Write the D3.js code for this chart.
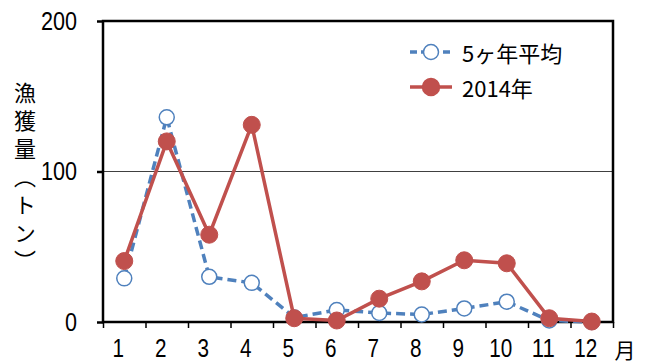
<!DOCTYPE html>
<html>
<head>
<meta charset="utf-8">
<script src="https://cdn.jsdelivr.net/npm/d3@7"></script>
<style>
  html, body { margin: 0; padding: 0; background: #fff; }
  svg { display: block; }
  .num { font-family: "Liberation Sans", "Noto Sans CJK JP", sans-serif; }
  .cjk { font-family: "Noto Sans CJK JP", sans-serif; }
</style>
</head>
<body>
<svg id="chart" width="649" height="363"></svg>
<script>
// Monthly catch (tons)
const months = [1, 2, 3, 4, 5, 6, 7, 8, 9, 10, 11, 12];
const monthLabels = ["1", "2", "3", "4", "5", "6", "7", "8", "9", "10", "11", "12"];
const avg5yr = [29, 136, 30, 26, 3, 8, 6, 5, 9, 13.5, 1, 0];
const y2014 = [40.5, 120, 58, 131, 2.5, 1, 15.5, 27, 41, 39, 2.5, 0.3];
const yTicks = [0, 100, 200];
const seriesNames = ["5ヶ年平均", "2014年"];
const yTitle = "漁獲量（トン）";

const svg = d3.select("#chart");
const plotLeft = 103, plotRight = 613, plotTop = 21, plotBottom = 322;
const blue = "#4f81bd", red = "#c0504d";
const digitW = 12;   // condensed digit width for axis numbers

const x = d3.scaleLinear().domain([0.5, 12.5]).range([plotLeft, plotRight]);
const y = d3.scaleLinear().domain([0, 200]).range([plotBottom, plotTop]);

// gridline at 100
svg.append("g")
  .selectAll("line")
  .data(yTicks.filter(d => d > 0 && d < 200))
  .join("line")
  .attr("x1", plotLeft).attr("x2", plotRight)
  .attr("y1", d => y(d)).attr("y2", d => y(d))
  .attr("stroke", "#404040").attr("stroke-width", 1.2);

// y axis ticks + labels
const yAxis = d3.axisLeft(y).tickValues(yTicks).tickSize(6).tickPadding(20).tickFormat(d3.format("d"));
const gy = svg.append("g").attr("transform", `translate(${plotLeft},0)`).call(yAxis);
gy.select(".domain").remove();
gy.selectAll(".tick line").attr("stroke", "#000").attr("stroke-width", 2.5);
gy.selectAll(".tick text")
  .attr("class", "num").attr("font-size", 25).attr("fill", "#000")
  .attr("textLength", d => String(d).length * digitW)
  .attr("lengthAdjust", "spacingAndGlyphs");

// x axis: ticks at category boundaries
const boundaries = d3.range(0.5, 13, 1);
const xAxis = d3.axisBottom(x).tickValues(boundaries).tickSize(6).tickFormat("");
const gx = svg.append("g").attr("transform", `translate(0,${plotBottom})`).call(xAxis);
gx.select(".domain").remove();
gx.selectAll(".tick line").attr("stroke", "#000").attr("stroke-width", 1.5);

// month labels
svg.append("g")
  .selectAll("text")
  .data(months)
  .join("text")
  .attr("class", "num")
  .attr("x", (d) => x(d) - 6)
  .attr("y", 357)
  .attr("text-anchor", "middle")
  .attr("font-size", 25)
  .attr("textLength", (d, i) => monthLabels[i].length * (digitW - 0.5))
  .attr("lengthAdjust", "spacingAndGlyphs")
  .text((d, i) => monthLabels[i]);

svg.append("text")
  .attr("class", "cjk")
  .attr("x", 625).attr("y", 358)
  .attr("text-anchor", "middle")
  .attr("font-size", 21)
  .text("月");

// plot frame
svg.append("rect")
  .attr("x", plotLeft).attr("y", plotTop)
  .attr("width", plotRight - plotLeft).attr("height", plotBottom - plotTop)
  .attr("fill", "none").attr("stroke", "#000").attr("stroke-width", 2.5);

// y axis title, set vertically
svg.append("text")
  .attr("class", "cjk")
  .attr("x", 25).attr("y", 82)
  .style("writing-mode", "vertical-rl")
  .style("letter-spacing", "6px")
  .attr("font-size", 22)
  .text(yTitle);

const line = d3.line().x((d, i) => x(months[i])).y(d => y(d));

// 5-year average
svg.append("path")
  .datum(avg5yr)
  .attr("d", line)
  .attr("fill", "none").attr("stroke", blue)
  .attr("stroke-width", 3.5).attr("stroke-dasharray", "9,5");
svg.append("g")
  .selectAll("circle")
  .data(avg5yr)
  .join("circle")
  .attr("cx", (d, i) => x(months[i])).attr("cy", d => y(d))
  .attr("r", 7.5).attr("fill", "#fff").attr("stroke", blue).attr("stroke-width", 1.5);

// 2014
svg.append("path")
  .datum(y2014)
  .attr("d", line)
  .attr("fill", "none").attr("stroke", red).attr("stroke-width", 3.5);
svg.append("g")
  .selectAll("circle")
  .data(y2014)
  .join("circle")
  .attr("cx", (d, i) => x(months[i])).attr("cy", d => y(d))
  .attr("r", 8.5).attr("fill", red).attr("stroke", red).attr("stroke-width", 1);

// legend
const legend = svg.append("g");
const rows = [
  { name: seriesNames[0], color: blue, dash: "7,4", fill: "#fff", r: 7.5, y: 52 },
  { name: seriesNames[1], color: red, dash: null, fill: red, r: 8.5, y: 87 }
];
rows.forEach(r => {
  legend.append("line")
    .attr("x1", 410).attr("x2", 452).attr("y1", r.y).attr("y2", r.y)
    .attr("stroke", r.color).attr("stroke-width", 3.5)
    .attr("stroke-dasharray", r.dash);
  legend.append("circle")
    .attr("cx", 431).attr("cy", r.y).attr("r", r.r)
    .attr("fill", r.fill).attr("stroke", r.color).attr("stroke-width", 1.5);
  legend.append("text")
    .attr("class", "cjk")
    .attr("x", 462).attr("y", r.y)
    .attr("dominant-baseline", "central")
    .attr("font-size", 22)
    .text(r.name);
});
</script>
</body>
</html>
